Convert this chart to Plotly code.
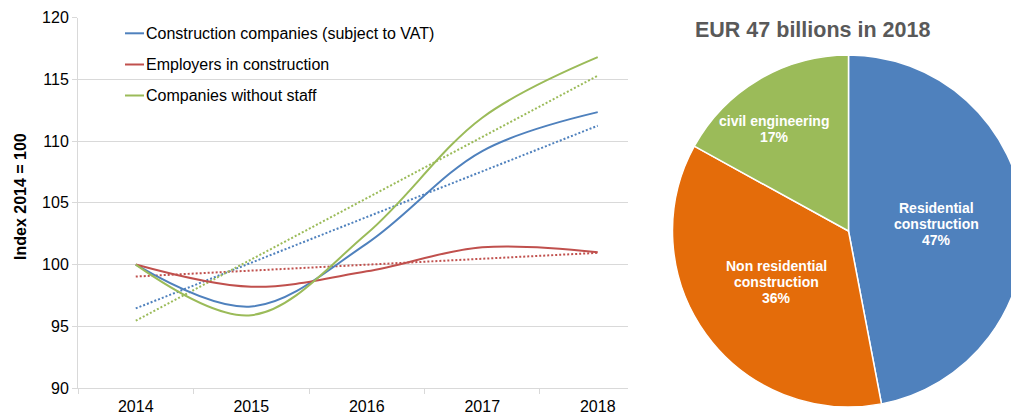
import plotly.graph_objects as go

# ---------------- data ----------------
years = [2014, 2015, 2016, 2017, 2018]
construction = [100, 96.6, 101.7, 109.2, 112.35]
employers = [100, 98.2, 99.45, 101.4, 101.0]
no_staff = [100, 95.9, 102.5, 111.9, 116.8]

trend_years = [2014, 2018]
construction_trend = [96.45, 111.25]
employers_trend = [99.03, 100.95]
no_staff_trend = [95.45, 115.3]

series_names = ["Construction companies (subject to VAT)",
                "Employers in construction",
                "Companies without staff"]

pie_labels = ["Residential construction", "Non residential construction", "civil engineering"]
pie_values = [47, 36, 17]
pie_text_lines = [["Residential", "construction", "47%"],
                  ["Non residential", "construction", "36%"],
                  ["civil engineering", "17%"]]
pie_title = "EUR 47 billions in 2018"

y_ticks = [90, 95, 100, 105, 110, 115, 120]

# ---------------- styles ----------------
W, H = 1030, 416
BLUE, RED, GREEN, ORANGE = "#4F81BD", "#C0504D", "#9BBB59", "#E46C0A"
GRID = "#D9D9D9"
FONT = "Arial, Liberation Sans, sans-serif"


def px(x):
    return x / W


def py(y):
    return 1 - y / H


fig = go.Figure()

colors = [BLUE, RED, GREEN]
for name, tr, c in zip(series_names,
                       [construction_trend, employers_trend, no_staff_trend], colors):
    fig.add_trace(go.Scatter(x=trend_years, y=tr, mode="lines", showlegend=False,
                             line=dict(color=c, width=2, dash="2px,2px"), hoverinfo="skip"))
for name, vals, c in zip(series_names, [construction, employers, no_staff], colors):
    fig.add_trace(go.Scatter(x=years, y=vals, mode="lines", name=name, showlegend=False,
                             line=dict(color=c, width=2, shape="spline", smoothing=1)))

fig.add_trace(go.Pie(labels=pie_labels, values=pie_values, sort=False, direction="clockwise",
                     rotation=0, textinfo="none",
                     marker=dict(colors=[BLUE, ORANGE, GREEN], line=dict(color="white", width=1.5)),
                     domain=dict(x=[px(672.5), px(1024.5)], y=[py(407), py(55)]),
                     showlegend=False))

annotations = []
# manual legend
shapes = []
for i, (name, c) in enumerate(zip(series_names, colors)):
    yy = [33.3, 64.5, 95.5][i]
    shapes.append(dict(type="line", xref="paper", yref="paper", x0=px(125), x1=px(144),
                       y0=py(yy), y1=py(yy), line=dict(color=c, width=2)))
    annotations.append(dict(xref="paper", yref="paper", x=px(144), y=py(yy), text=name,
                            showarrow=False, xanchor="left", yanchor="middle",
                            font=dict(family=FONT, size=16, color="#000000")))

annotations.append(dict(xref="paper", yref="paper", x=px(20), y=py(197), text="Index 2014 = 100",
                        textangle=-90, showarrow=False, xanchor="center", yanchor="middle",
                        font=dict(family=FONT, size=16, color="#000000", weight="bold")))

annotations.append(dict(xref="paper", yref="paper", x=px(812), y=py(30), text=pie_title,
                        showarrow=False, xanchor="center", yanchor="middle",
                        font=dict(family=FONT, size=21.5, color="#595959", weight="bold")))

label_pos = [(936, 207.7), (776, 265.7), (774, 121)]
LINE_GAP = 16.2
for (lx, ly), lines in zip(label_pos, pie_text_lines):
    for k, t in enumerate(lines):
        annotations.append(dict(xref="paper", yref="paper", x=px(lx), y=py(ly + k * LINE_GAP),
                                text=t, showarrow=False, xanchor="center", yanchor="middle",
                                font=dict(family=FONT, size=14, color="white", weight="bold")))

fig.update_layout(
    width=W, height=H, margin=dict(l=0, r=0, t=0, b=0),
    paper_bgcolor="white", plot_bgcolor="white",
    xaxis=dict(domain=[px(78), px(628)], range=[2013.5, 2018.262], tickmode="array",
               tickvals=years, ticktext=[str(y) for y in years], ticks="", showgrid=False,
               showline=True, linecolor=GRID, linewidth=1, zeroline=False,
               tickfont=dict(family=FONT, size=16, color="#000000"), ticklabelstandoff=4,
               minor=dict(ticks="outside", ticklen=5, tickcolor=GRID, tickmode="linear",
                          tick0=2013.5, dtick=1, showgrid=False),
               automargin=False, fixedrange=True),
    yaxis=dict(domain=[py(388), py(17.7)], range=[90, 120], tickmode="array", tickvals=y_ticks,
               showgrid=True, gridcolor=GRID, gridwidth=1, showline=True, linecolor=GRID,
               ticks="outside", ticklen=5, tickcolor=GRID, zeroline=False,
               tickfont=dict(family=FONT, size=16, color="#000000"),
               automargin=False, fixedrange=True),
    annotations=annotations, shapes=shapes,
)

fig.write_html("out.html", config={"displayModeBar": False},
               post_script="document.body.style.margin='0';document.body.style.overflow='hidden';")
